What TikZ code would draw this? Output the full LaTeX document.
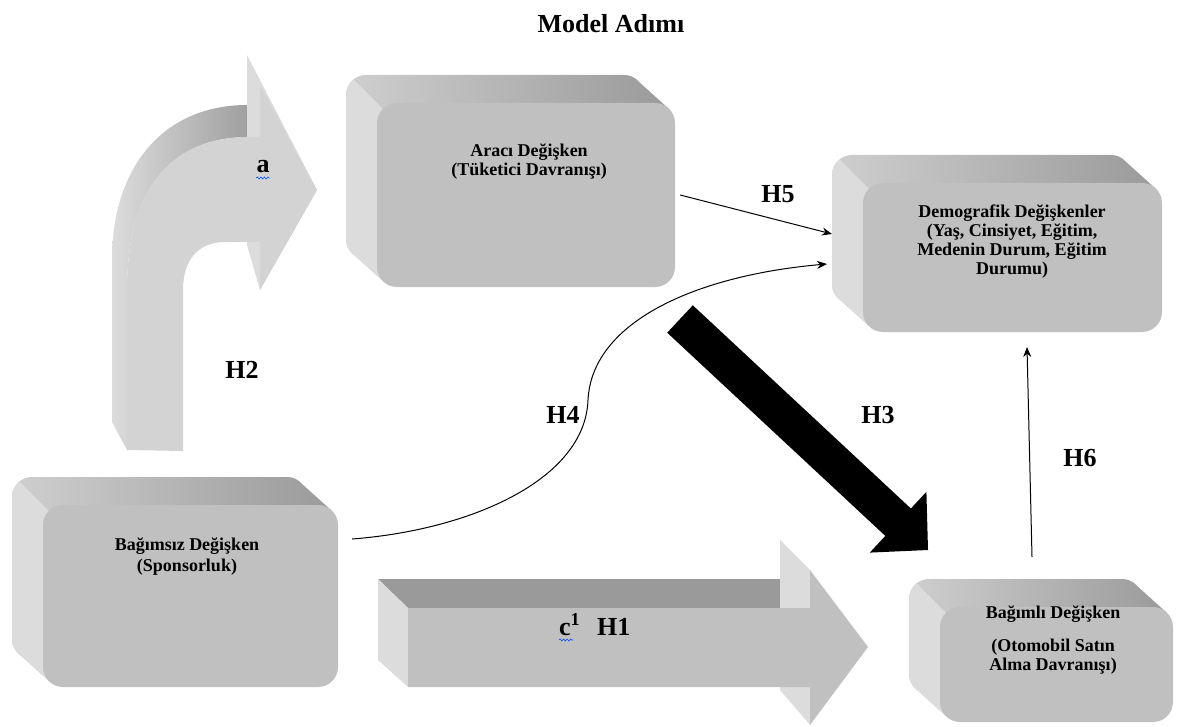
\documentclass[tikz,border=0pt]{standalone}
\usepackage{fontspec}
\setmainfont{Liberation Serif}
\usetikzlibrary{arrows.meta,decorations.pathmorphing}
\definecolor{frontgray}{HTML}{C0C0C0}
\definecolor{topgray}{HTML}{9A9A9A}
\definecolor{sidegray}{HTML}{DCDCDC}
\definecolor{bentgray}{HTML}{D3D3D3}
% sides of a bevelled box, front face from (#1,#2) to (#3,#4)
\newcommand{\boxsides}[4]{%
  \shade[left color=sidegray!80!topgray, right color=topgray, rounded corners=20pt]
    (#1-31,#2-28) rectangle (#3-31,#4-28) [sharp corners]
    (#1-25,#4-34) -- (#1+6,#4-6) -- (#3-6,#2+6) -- (#3-37,#2-22) -- cycle;
  \begin{scope}
    \clip (#1-80,#2-80) -- (#1+420,#2+420) -- (#1-400,#2+420) -- cycle;
    \fill[sidegray, rounded corners=20pt] (#1-31,#2-28) rectangle (#3-31,#4-28);
    \fill[sidegray] (#3-37,#2-22) -- (#3-6,#2+6) -- (#1+6,#4-6) -- (#1-25,#4-34) -- cycle;
  \end{scope}}

\begin{document}
\begin{tikzpicture}[x=1pt, y=-1pt, >={Stealth[length=10pt, width=8pt]},
  front/.style={fill=frontgray, rounded corners=20pt, inner sep=0pt},
  boxtext/.style={font=\bfseries\fontsize{18}{19}\selectfont, align=center},
  hlabel/.style={font=\bfseries\fontsize{26}{28}\selectfont, inner sep=0pt},
  conn/.style={->, line width=1pt},
  squig/.style={blue!70!cyan, line width=0.6pt, decorate,
    decoration={snake, amplitude=1pt, segment length=3.5pt}}]
  \useasboundingbox (0,0) rectangle (1177,727);
  \node[font=\bfseries\fontsize{26}{28}\selectfont] (title) at (611,24) {Model Adımı};

  % bevelled boxes
  \boxsides{377}{103}{675}{287}
  \node[front, minimum width=298pt, minimum height=184pt] (arac) at (526,195) {};
  \node[boxtext] (arac-t) at (529,162) {Aracı Değişken\\(Tüketici Davranışı)};

  \boxsides{863}{183}{1162}{332}
  \node[front, minimum width=299pt, minimum height=149pt] (demo) at (1012.5,257.5) {};
  \node[boxtext] (demo-t) at (1012,242)
    {Demografik Değişkenler\\(Yaş, Cinsiyet, Eğitim,\\Medenin Durum, Eğitim\\Durumu)};

  \boxsides{43}{505}{338}{687}
  \node[front, minimum width=295pt, minimum height=182pt] (bagimsiz) at (190.5,596) {};
  \node[boxtext] (bagimsiz-t) at (187,557) {Bağımsız Değişken\\[2pt](Sponsorluk)};

  \boxsides{940}{607}{1173}{722}
  \node[front, minimum width=233pt, minimum height=115pt] (bagimli) at (1056.5,664.5) {};
  \node[boxtext] (bagimli-t) at (1053,640)
    {Bağımlı Değişken\\[14pt](Otomobil Satın\\Alma Davranışı)};

  % bent arrow (a, H2)
  \shade[left color=sidegray, right color=topgray] (112,422) -- (112,260)
    .. controls (112,165) and (165,105) .. (247,105) -- (260,138) -- (247,137)
    .. controls (170,138) and (127,190) .. (127,290) -- (127,450) -- cycle;
  \fill[sidegray] (247,55) -- (317,190) -- (260,290) -- (247,245) -- cycle;
  \fill[bentgray] (127,450) -- (127,290) .. controls (127,190) and (170,138) .. (247,137)
    -- (260,137) -- (260,85) -- (317,190) -- (260,290) -- (260,242) -- (225,242)
    .. controls (200,242) and (183,258) .. (183,290) -- (183,451) -- cycle;
  \node[hlabel, anchor=base] (alab) at (263,173) {a};
  \draw[squig] ([yshift=-5pt]alab.base west) -- ([yshift=-5pt]alab.base east);

  % straight arrow (c1, H1)
  \fill[topgray] (378,579) -- (780,579) -- (810,608) -- (408,608) -- cycle;
  \fill[sidegray] (378,579) -- (408,608) -- (408,687) -- (378,660) -- cycle;
  \fill[sidegray] (780,540) -- (810,570) -- (810,725) -- (780,690) -- cycle;
  \fill[frontgray] (408,608) -- (810,608) -- (810,570) -- (868,647) -- (810,725)
    -- (810,687) -- (408,687) -- cycle;
  \node[hlabel, anchor=base west] (clab) at (559,635) {c\textsuperscript{1}};
  \draw[squig] ([yshift=-5pt]clab.base west) -- ++(14,0);
  \node[hlabel, anchor=base west] (h1) at (597,635) {H1};

  % thick arrow H3
  \fill (692.8,305.3) -- (910.9,508.5) -- (926.4,491.8) -- (928,550) -- (869.8,552.6)
    -- (885.3,535.9) -- (667.2,332.7) -- cycle;

  % thin connectors
  \coordinate (h4s) at (352,539);
  \coordinate (h4e) at (827,264);
  \coordinate (h5e) at (832,234);
  \coordinate (h6s) at (1032,557);
  \coordinate (h6e) at (1027,347);
  \draw[conn] (h4s) .. controls (470,530) and (585,480) .. (588,400)
    .. controls (592,320) and (700,275) .. (h4e);
  \draw[conn] ([xshift=5pt]arac.east) -- (h5e);
  \draw[conn] (h6s) -- (h6e);

  \node[hlabel] (h2) at (242,370) {H2};
  \node[hlabel] (h3) at (878,415) {H3};
  \node[hlabel] (h4) at (563,415) {H4};
  \node[hlabel] (h5) at (778,194) {H5};
  \node[hlabel] (h6) at (1080,458) {H6};
\end{tikzpicture}
\end{document}
